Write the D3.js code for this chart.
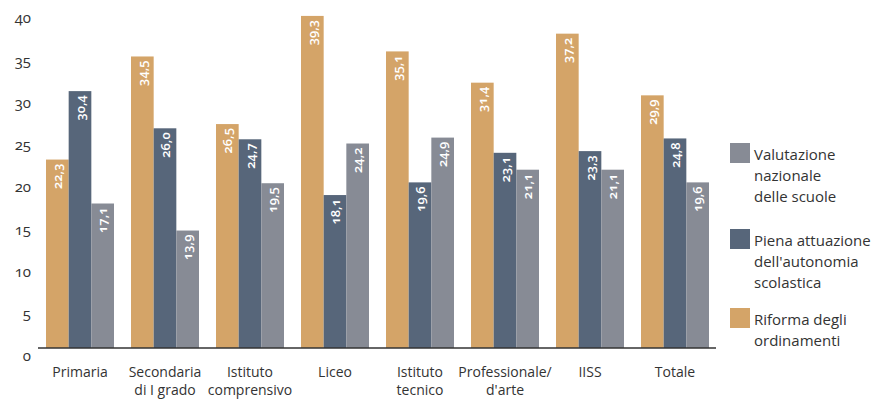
<!DOCTYPE html>
<html>
<head>
<meta charset="utf-8">
<script src="https://cdn.jsdelivr.net/npm/d3@7"></script>
<style>
  body { margin: 0; background: #fff; }
  svg { display: block; font-family: "Open Sans", "Lato", sans-serif; }
  .num { font-variant-numeric: oldstyle-nums; }
</style>
</head>
<body>
<svg id="chart" width="876" height="399"></svg>
<script>
// Categories (two-line labels split with "|")
const categories = ["Primaria", "Secondaria|di I grado", "Istituto|comprensivo", "Liceo",
  "Istituto|tecnico", "Professionale/|d'arte", "IISS", "Totale"];
const seriesNames = ["Riforma degli ordinamenti", "Piena attuazione dell'autonomia scolastica", "Valutazione nazionale delle scuole"];
const riforma     = [22.3, 34.5, 26.5, 39.3, 35.1, 31.4, 37.2, 29.9];
const autonomia   = [30.4, 26.0, 24.7, 18.1, 19.6, 23.1, 23.3, 24.8];
const valutazione = [17.1, 13.9, 19.5, 24.2, 24.9, 21.1, 21.1, 19.6];
const yTicks = [0, 5, 10, 15, 20, 25, 30, 35, 40];

const colors = ["#d4a468", "#57667a", "#878b95"];
const series = [riforma, autonomia, valutazione];

const svg = d3.select("#chart");
const it = d3.formatLocale({ decimal: ",", thousands: ".", grouping: [3], currency: ["", "€"] });
const fmt = it.format(".1f");

const x = d3.scaleBand().domain(d3.range(categories.length))
  .range([37.5, 717.5]).paddingInner(0.2).paddingOuter(0.1);
const xs = d3.scaleBand().domain(d3.range(series.length)).range([0, x.bandwidth()]);
const y = d3.scaleLinear().domain([0, 40]).range([348, 10]);

// Y axis labels only
const yAxis = d3.axisLeft(y).tickValues(yTicks).tickSize(0).tickPadding(0);
const gy = svg.append("g").attr("transform", "translate(31,0)").call(yAxis);
gy.select(".domain").remove();
gy.selectAll("text").attr("class", "num").attr("dy", "0.32em")
  .attr("transform", "translate(0,8)")
  .style("font-size", "15px").style("fill", "#333").style("font-family", "Open Sans, sans-serif");

// Bars
const groups = svg.append("g").selectAll("g").data(categories).join("g")
  .attr("transform", (d, i) => `translate(${x(i)},0)`);

series.forEach((vals, s) => {
  groups.append("rect")
    .attr("x", xs(s))
    .attr("width", xs.bandwidth())
    .attr("y", (d, i) => y(vals[i]))
    .attr("height", (d, i) => y(0) - y(vals[i]))
    .attr("fill", colors[s]);
  groups.append("text")
    .attr("class", "num")
    .attr("transform", (d, i) => `translate(${xs(s) + xs.bandwidth() / 2 + 4.5},${y(vals[i]) + 4}) rotate(-90)`)
    .attr("text-anchor", "end")
    .style("font-size", "13px").style("font-weight", "600")
    .style("fill", "#fff")
    .text((d, i) => fmt(vals[i]));
});

// Baseline
svg.append("line").attr("x1", 38).attr("x2", 716).attr("y1", 348).attr("y2", 348)
  .attr("stroke", "#333").attr("stroke-width", 1.5);

// Category labels
const xl = svg.append("g").selectAll("text").data(categories).join("text")
  .attr("x", (d, i) => x(i) + x.bandwidth() / 2)
  .attr("y", 377)
  .attr("text-anchor", "middle")
  .style("font-size", "14px").style("fill", "#333");
xl.selectAll("tspan").data(d => d.split("|")).join("tspan")
  .attr("x", function () { return this.parentNode.getAttribute("x"); })
  .attr("dy", (d, i) => i === 0 ? 0 : 18)
  .text(d => d);

// Legend
const legend = [
  { color: colors[2], lines: ["Valutazione", "nazionale", "delle scuole"], y: 143 },
  { color: colors[1], lines: ["Piena attuazione", "dell'autonomia", "scolastica"], y: 229 },
  { color: colors[0], lines: ["Riforma degli", "ordinamenti"], y: 308 }
];
const lg = svg.append("g").selectAll("g").data(legend).join("g")
  .attr("transform", d => `translate(730,${d.y})`);
lg.append("rect").attr("width", 20).attr("height", 20).attr("fill", d => d.color);
lg.append("text").attr("x", 24).attr("y", 17)
  .style("font-size", "15px").style("fill", "#333")
  .selectAll("tspan").data(d => d.lines).join("tspan")
  .attr("x", 24).attr("dy", (d, i) => i === 0 ? 0 : 21)
  .text(d => d);
</script>
</body>
</html>
